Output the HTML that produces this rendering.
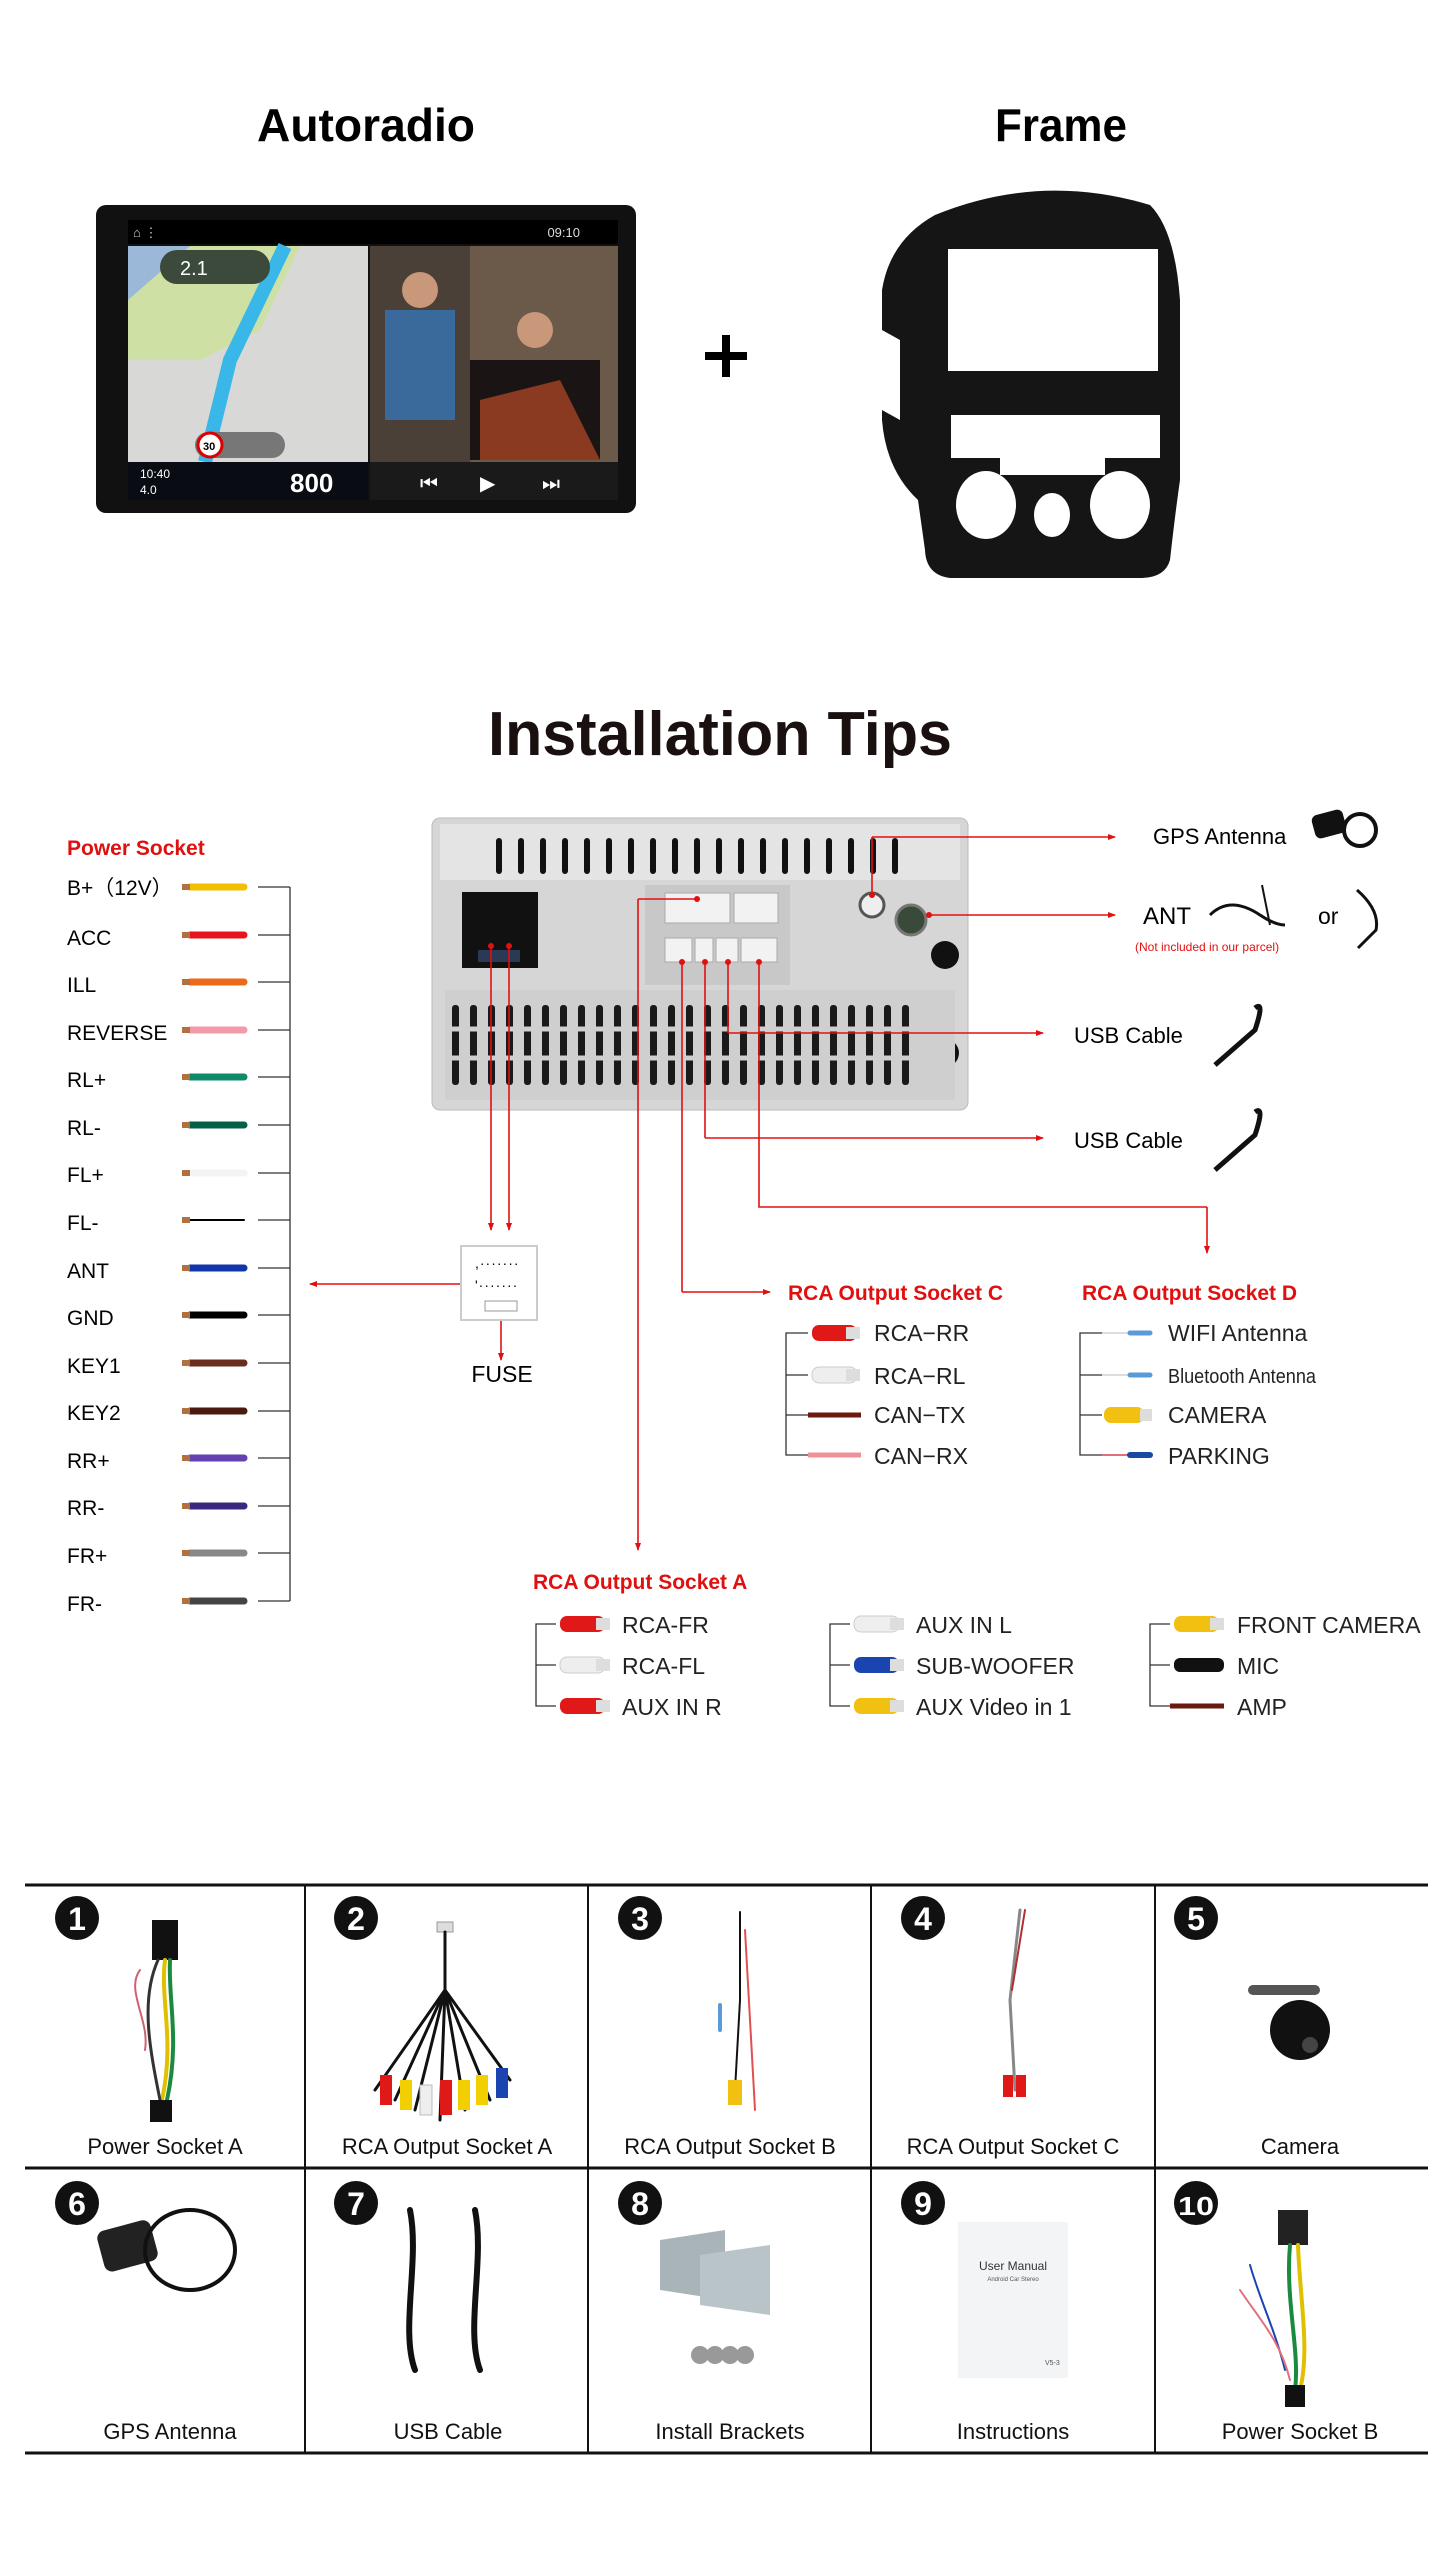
<!DOCTYPE html>
<html><head><meta charset="utf-8"><style>
html,body{margin:0;padding:0;background:#fff}
svg{display:block}
text{font-family:"Liberation Sans",sans-serif}
</style></head><body>
<svg width="1451" height="2560" viewBox="0 0 1451 2560" xmlns="http://www.w3.org/2000/svg">
<defs>
<marker id="ar" markerWidth="8" markerHeight="8" refX="7" refY="4" orient="auto" markerUnits="userSpaceOnUse"><path d="M0,1 L8,4 L0,7 z" fill="#e01010"/></marker>
</defs>
<rect width="1451" height="2560" fill="#fff"/>

<!-- Titles -->
<text x="366" y="141" font-size="46" font-weight="bold" text-anchor="middle" textLength="218" lengthAdjust="spacingAndGlyphs">Autoradio</text>
<text x="1061" y="141" font-size="46" font-weight="bold" text-anchor="middle" textLength="132" lengthAdjust="spacingAndGlyphs">Frame</text>

<!-- Autoradio screen -->
<rect x="96" y="205" width="540" height="308" rx="10" fill="#111"/>
<rect x="128" y="220" width="490" height="24" fill="#000"/>
<text x="133" y="237" font-size="13" fill="#ccc">⌂  ⋮</text>
<text x="580" y="237" font-size="13" fill="#ddd" text-anchor="end">09:10</text>
<rect x="128" y="246" width="240" height="216" fill="#d8d8d6"/>
<polygon points="128,246 300,246 260,330 200,360 128,360" fill="#cfe0a5"/>
<polygon points="128,246 190,246 128,300" fill="#9bb8d8"/>
<path d="M285,246 L230,360 L205,462" stroke="#38b7e8" stroke-width="14" fill="none"/>
<rect x="160" y="250" width="110" height="34" rx="17" fill="#3b4a3a"/>
<text x="180" y="275" font-size="20" fill="#fff">2.1</text>
<rect x="195" y="432" width="90" height="26" rx="13" fill="#777"/>
<circle cx="210" cy="445" r="12" fill="#fff" stroke="#d00" stroke-width="3"/>
<text x="203" y="450" font-size="11" font-weight="bold">30</text>
<rect x="370" y="246" width="248" height="216" fill="#6b5a4a"/>
<rect x="370" y="246" width="100" height="216" fill="#4a4038"/>
<rect x="385" y="310" width="70" height="110" fill="#3a6a9c"/>
<rect x="470" y="360" width="130" height="100" fill="#1a1414"/>
<polygon points="480,400 560,380 600,460 480,460" fill="#8b3a22"/>
<circle cx="420" cy="290" r="18" fill="#c9977a"/>
<circle cx="535" cy="330" r="18" fill="#c9977a"/>
<rect x="128" y="462" width="240" height="38" fill="#0a0c14"/>
<text x="140" y="478" font-size="12" fill="#fff">10:40</text>
<text x="140" y="494" font-size="12" fill="#fff">4.0</text>
<text x="290" y="492" font-size="26" font-weight="bold" fill="#fff">800</text>
<rect x="370" y="462" width="248" height="38" fill="#1a1a1a"/>
<text x="420" y="490" font-size="20" fill="#fff">⏮</text>
<text x="480" y="490" font-size="20" fill="#fff">▶</text>
<text x="542" y="490" font-size="20" fill="#fff">⏭</text>

<!-- Plus -->
<rect x="705" y="352" width="42" height="8" fill="#000"/>
<rect x="722" y="335" width="8" height="42" fill="#000"/>

<!-- Frame -->
<path d="M935,215 Q1040,172 1150,205 Q1175,230 1180,300 L1180,480 Q1175,515 1170,560 Q1165,578 1140,578 L950,578 Q926,575 925,550 L918,500 Q886,470 882,420 L882,290 Q890,240 935,215 Z" fill="#151515"/>
<rect x="948" y="249" width="210" height="122" fill="#fff"/>
<path d="M951,415 L1160,415 L1160,458 L1105,458 L1105,475 L1000,475 L1000,458 L951,458 Z" fill="#fff"/>
<ellipse cx="986" cy="505" rx="30" ry="34" fill="#fff"/>
<ellipse cx="1052" cy="515" rx="18" ry="22" fill="#fff"/>
<ellipse cx="1120" cy="505" rx="30" ry="34" fill="#fff"/>
<path d="M882,330 L900,340 L900,420 L882,410 Z" fill="#fff"/>

<!-- Installation Tips -->
<text x="720" y="755" font-size="62" font-weight="bold" text-anchor="middle" fill="#1a1010" textLength="464" lengthAdjust="spacingAndGlyphs">Installation Tips</text>

<!-- Head unit -->
<rect x="432" y="818" width="536" height="292" rx="8" fill="#d6d6d6" stroke="#bbb"/>
<rect x="440" y="824" width="520" height="56" fill="#e4e4e4"/>
<g fill="#111">
<rect x="496" y="838" width="6" height="36" rx="3"/><rect x="518" y="838" width="6" height="36" rx="3"/><rect x="540" y="838" width="6" height="36" rx="3"/><rect x="562" y="838" width="6" height="36" rx="3"/><rect x="584" y="838" width="6" height="36" rx="3"/><rect x="606" y="838" width="6" height="36" rx="3"/><rect x="628" y="838" width="6" height="36" rx="3"/><rect x="650" y="838" width="6" height="36" rx="3"/><rect x="672" y="838" width="6" height="36" rx="3"/><rect x="694" y="838" width="6" height="36" rx="3"/><rect x="716" y="838" width="6" height="36" rx="3"/><rect x="738" y="838" width="6" height="36" rx="3"/><rect x="760" y="838" width="6" height="36" rx="3"/><rect x="782" y="838" width="6" height="36" rx="3"/><rect x="804" y="838" width="6" height="36" rx="3"/><rect x="826" y="838" width="6" height="36" rx="3"/><rect x="848" y="838" width="6" height="36" rx="3"/><rect x="870" y="838" width="6" height="36" rx="3"/><rect x="892" y="838" width="6" height="36" rx="3"/>
</g>
<rect x="462" y="892" width="76" height="76" fill="#111"/>
<rect x="478" y="950" width="42" height="12" fill="#2a3a55"/>
<rect x="645" y="885" width="145" height="100" fill="#c8c8c8"/>
<rect x="665" y="893" width="65" height="30" fill="#f2f2f2" stroke="#aaa"/>
<rect x="734" y="893" width="44" height="30" fill="#f2f2f2" stroke="#aaa"/>
<rect x="665" y="938" width="27" height="24" fill="#f2f2f2" stroke="#aaa"/>
<rect x="695" y="938" width="18" height="24" fill="#f2f2f2" stroke="#aaa"/>
<rect x="716" y="938" width="22" height="24" fill="#f2f2f2" stroke="#aaa"/>
<rect x="741" y="938" width="36" height="24" fill="#f2f2f2" stroke="#aaa"/>
<circle cx="872" cy="905" r="12" fill="#eee" stroke="#555" stroke-width="3"/>
<circle cx="911" cy="920" r="15" fill="#3a4a3a" stroke="#777" stroke-width="3"/>
<circle cx="945" cy="955" r="14" fill="#111"/>
<circle cx="945" cy="1053" r="14" fill="#111"/>
<rect x="445" y="990" width="510" height="110" fill="#cfcfcf"/>
<g fill="#1a1a1a">
<rect x="452" y="1005" width="7" height="80" rx="3"/><rect x="470" y="1005" width="7" height="80" rx="3"/><rect x="488" y="1005" width="7" height="80" rx="3"/><rect x="506" y="1005" width="7" height="80" rx="3"/><rect x="524" y="1005" width="7" height="80" rx="3"/><rect x="542" y="1005" width="7" height="80" rx="3"/><rect x="560" y="1005" width="7" height="80" rx="3"/><rect x="578" y="1005" width="7" height="80" rx="3"/><rect x="596" y="1005" width="7" height="80" rx="3"/><rect x="614" y="1005" width="7" height="80" rx="3"/><rect x="632" y="1005" width="7" height="80" rx="3"/><rect x="650" y="1005" width="7" height="80" rx="3"/><rect x="668" y="1005" width="7" height="80" rx="3"/><rect x="686" y="1005" width="7" height="80" rx="3"/><rect x="704" y="1005" width="7" height="80" rx="3"/><rect x="722" y="1005" width="7" height="80" rx="3"/><rect x="740" y="1005" width="7" height="80" rx="3"/><rect x="758" y="1005" width="7" height="80" rx="3"/><rect x="776" y="1005" width="7" height="80" rx="3"/><rect x="794" y="1005" width="7" height="80" rx="3"/><rect x="812" y="1005" width="7" height="80" rx="3"/><rect x="830" y="1005" width="7" height="80" rx="3"/><rect x="848" y="1005" width="7" height="80" rx="3"/><rect x="866" y="1005" width="7" height="80" rx="3"/><rect x="884" y="1005" width="7" height="80" rx="3"/><rect x="902" y="1005" width="7" height="80" rx="3"/>
</g>
<g stroke="#cfcfcf" stroke-width="5"><line x1="445" y1="1029" x2="930" y2="1029"/><line x1="445" y1="1058" x2="930" y2="1058"/></g>

<!-- Red connectors -->
<g stroke="#e01010" stroke-width="1.6" fill="none">
<line x1="491" y1="946" x2="491" y2="1230" marker-end="url(#ar)"/>
<line x1="509" y1="946" x2="509" y2="1230" marker-end="url(#ar)"/>
<line x1="460" y1="1284" x2="310" y2="1284" marker-end="url(#ar)"/>
<line x1="501" y1="1308" x2="501" y2="1360" marker-end="url(#ar)"/>
<line x1="872" y1="895" x2="872" y2="837"/><line x1="872" y1="837" x2="1115" y2="837" marker-end="url(#ar)"/>
<line x1="929" y1="915" x2="1115" y2="915" marker-end="url(#ar)"/>
<line x1="728" y1="962" x2="728" y2="1033"/><line x1="728" y1="1033" x2="1043" y2="1033" marker-end="url(#ar)"/>
<line x1="705" y1="962" x2="705" y2="1138"/><line x1="705" y1="1138" x2="1043" y2="1138" marker-end="url(#ar)"/>
<polyline points="759,962 759,1207 1207,1207"/><line x1="1207" y1="1207" x2="1207" y2="1253" marker-end="url(#ar)"/>
<polyline points="682,962 682,1292"/><line x1="682" y1="1292" x2="770" y2="1292" marker-end="url(#ar)"/>
<polyline points="697,899 638,899"/><line x1="638" y1="899" x2="638" y2="1550" marker-end="url(#ar)"/>
</g>
<g fill="#e01010"><circle cx="491" cy="946" r="3"/><circle cx="509" cy="946" r="3"/><circle cx="697" cy="899" r="3"/><circle cx="682" cy="962" r="3"/><circle cx="705" cy="962" r="3"/><circle cx="728" cy="962" r="3"/><circle cx="759" cy="962" r="3"/><circle cx="872" cy="895" r="3"/><circle cx="929" cy="915" r="3"/></g>

<!-- Fuse -->
<rect x="461" y="1246" width="76" height="74" fill="#fff" stroke="#ccc" stroke-width="2"/>
<text x="475" y="1268" font-size="14" letter-spacing="1">,·······</text>
<text x="475" y="1290" font-size="14" letter-spacing="1">'·······</text>
<rect x="485" y="1301" width="32" height="10" fill="none" stroke="#999"/>
<text x="502" y="1382" font-size="23" text-anchor="middle">FUSE</text>

<!-- Right labels -->
<text x="1153" y="844" font-size="22">GPS Antenna</text>
<g fill="#111"><rect x="1313" y="812" width="32" height="24" rx="6" transform="rotate(-15 1329 824)"/><circle cx="1360" cy="830" r="16" fill="none" stroke="#111" stroke-width="4"/></g>
<text x="1143" y="924" font-size="24">ANT</text>
<path d="M1210,915 Q1230,895 1260,915 Q1275,925 1285,925" stroke="#111" stroke-width="3" fill="none"/><line x1="1262" y1="885" x2="1270" y2="925" stroke="#111" stroke-width="2"/>
<text x="1135" y="951" font-size="12" fill="#e01010">(Not included in our parcel)</text>
<text x="1318" y="924" font-size="23">or</text>
<path d="M1357,890 Q1380,910 1376,930 L1358,948" stroke="#111" stroke-width="3" fill="none"/>
<text x="1074" y="1043" font-size="22">USB  Cable</text>
<path d="M1255,1008 Q1265,1000 1255,1030 L1215,1065" stroke="#111" stroke-width="5" fill="none"/>
<text x="1074" y="1148" font-size="22">USB Cable</text>
<path d="M1255,1112 Q1265,1105 1255,1135 L1215,1170" stroke="#111" stroke-width="5" fill="none"/>

<!-- Power socket -->
<text x="67" y="855" font-size="21" font-weight="bold" fill="#e01010">Power Socket</text>
<g font-size="21">
<text x="67" y="895">B+（12V）</text><text x="67" y="945">ACC</text><text x="67" y="992">ILL</text><text x="67" y="1040">REVERSE</text>
<text x="67" y="1087">RL+</text><text x="67" y="1135">RL-</text><text x="67" y="1182">FL+</text><text x="67" y="1230">FL-</text>
<text x="67" y="1278">ANT</text><text x="67" y="1325">GND</text><text x="67" y="1373">KEY1</text><text x="67" y="1420">KEY2</text>
<text x="67" y="1468">RR+</text><text x="67" y="1515">RR-</text><text x="67" y="1563">FR+</text><text x="67" y="1611">FR-</text>
</g>
<g stroke-width="7" stroke-linecap="round">
<line x1="190" y1="887" x2="244" y2="887" stroke="#f2c000"/>
<line x1="190" y1="935" x2="244" y2="935" stroke="#e8141c"/>
<line x1="190" y1="982" x2="244" y2="982" stroke="#ea6a1a"/>
<line x1="190" y1="1030" x2="244" y2="1030" stroke="#f29aa8"/>
<line x1="190" y1="1077" x2="244" y2="1077" stroke="#0e8a68"/>
<line x1="190" y1="1125" x2="244" y2="1125" stroke="#066048"/>
<line x1="190" y1="1173" x2="244" y2="1173" stroke="#f4f4f4"/>
<line x1="190" y1="1220" x2="244" y2="1220" stroke="#000" stroke-width="2"/>
<line x1="190" y1="1268" x2="244" y2="1268" stroke="#1036a8"/>
<line x1="190" y1="1315" x2="244" y2="1315" stroke="#000"/>
<line x1="190" y1="1363" x2="244" y2="1363" stroke="#6a2e1c"/>
<line x1="190" y1="1411" x2="244" y2="1411" stroke="#4a1a0e"/>
<line x1="190" y1="1458" x2="244" y2="1458" stroke="#6440b0"/>
<line x1="190" y1="1506" x2="244" y2="1506" stroke="#3a2880"/>
<line x1="190" y1="1553" x2="244" y2="1553" stroke="#888"/>
<line x1="190" y1="1601" x2="244" y2="1601" stroke="#444"/>
</g>
<g fill="#b07040"><rect x="182" y="884" width="8" height="6"/><rect x="182" y="932" width="8" height="6"/><rect x="182" y="979" width="8" height="6"/><rect x="182" y="1027" width="8" height="6"/><rect x="182" y="1074" width="8" height="6"/><rect x="182" y="1122" width="8" height="6"/><rect x="182" y="1170" width="8" height="6"/><rect x="182" y="1217" width="8" height="6"/><rect x="182" y="1265" width="8" height="6"/><rect x="182" y="1312" width="8" height="6"/><rect x="182" y="1360" width="8" height="6"/><rect x="182" y="1408" width="8" height="6"/><rect x="182" y="1455" width="8" height="6"/><rect x="182" y="1503" width="8" height="6"/><rect x="182" y="1550" width="8" height="6"/><rect x="182" y="1598" width="8" height="6"/></g>
<g stroke="#333" stroke-width="1.3" fill="none">
<line x1="290" y1="887" x2="290" y2="1601"/>
<line x1="258" y1="887" x2="290" y2="887"/><line x1="258" y1="935" x2="290" y2="935"/><line x1="258" y1="982" x2="290" y2="982"/><line x1="258" y1="1030" x2="290" y2="1030"/><line x1="258" y1="1077" x2="290" y2="1077"/><line x1="258" y1="1125" x2="290" y2="1125"/><line x1="258" y1="1173" x2="290" y2="1173"/><line x1="258" y1="1220" x2="290" y2="1220"/><line x1="258" y1="1268" x2="290" y2="1268"/><line x1="258" y1="1315" x2="290" y2="1315"/><line x1="258" y1="1363" x2="290" y2="1363"/><line x1="258" y1="1411" x2="290" y2="1411"/><line x1="258" y1="1458" x2="290" y2="1458"/><line x1="258" y1="1506" x2="290" y2="1506"/><line x1="258" y1="1553" x2="290" y2="1553"/><line x1="258" y1="1601" x2="290" y2="1601"/>
</g>

<!-- RCA C -->
<text x="788" y="1300" font-size="21" font-weight="bold" fill="#e01010">RCA Output Socket C</text>
<g stroke="#333" stroke-width="1.3" fill="none"><polyline points="808,1333 786,1333 786,1455 808,1455"/><line x1="786" y1="1375" x2="808" y2="1375"/><line x1="786" y1="1415" x2="808" y2="1415"/></g>
<rect x="812" y="1325" width="45" height="16" rx="7" fill="#e01818"/><rect x="846" y="1327" width="14" height="12" fill="#ddd"/>
<rect x="812" y="1367" width="45" height="16" rx="7" fill="#eee" stroke="#ccc"/><rect x="846" y="1369" width="14" height="12" fill="#ddd"/>
<line x1="808" y1="1415" x2="861" y2="1415" stroke="#6a1a0e" stroke-width="5"/>
<line x1="808" y1="1455" x2="861" y2="1455" stroke="#f09098" stroke-width="5"/>
<g font-size="23" fill="#222"><text x="874" y="1341">RCA−RR</text><text x="874" y="1384">RCA−RL</text><text x="874" y="1423">CAN−TX</text><text x="874" y="1464">CAN−RX</text></g>

<!-- RCA D -->
<text x="1082" y="1300" font-size="21" font-weight="bold" fill="#e01010">RCA Output Socket D</text>
<g stroke="#333" stroke-width="1.3" fill="none"><polyline points="1102,1333 1080,1333 1080,1455 1102,1455"/><line x1="1080" y1="1375" x2="1102" y2="1375"/><line x1="1080" y1="1415" x2="1102" y2="1415"/></g>
<line x1="1102" y1="1333" x2="1130" y2="1333" stroke="#ddd" stroke-width="2"/><line x1="1130" y1="1333" x2="1150" y2="1333" stroke="#5a9ad8" stroke-width="5" stroke-linecap="round"/>
<line x1="1102" y1="1375" x2="1130" y2="1375" stroke="#ddd" stroke-width="2"/><line x1="1130" y1="1375" x2="1150" y2="1375" stroke="#5a9ad8" stroke-width="5" stroke-linecap="round"/>
<rect x="1104" y="1407" width="40" height="16" rx="7" fill="#f2c010"/><rect x="1140" y="1409" width="12" height="12" fill="#ddd"/>
<line x1="1102" y1="1455" x2="1130" y2="1455" stroke="#e07080" stroke-width="2"/><line x1="1130" y1="1455" x2="1150" y2="1455" stroke="#1a4aa0" stroke-width="6" stroke-linecap="round"/>
<g font-size="23" fill="#222"><text x="1168" y="1341">WIFI Antenna</text><text x="1168" y="1383" font-size="20" textLength="148" lengthAdjust="spacingAndGlyphs">Bluetooth Antenna</text><text x="1168" y="1423">CAMERA</text><text x="1168" y="1464">PARKING</text></g>

<!-- RCA A -->
<text x="533" y="1589" font-size="21" font-weight="bold" fill="#e01010">RCA Output Socket A</text>
<g stroke="#333" stroke-width="1.3" fill="none">
<polyline points="556,1624 536,1624 536,1706 556,1706"/><line x1="536" y1="1665" x2="556" y2="1665"/>
<polyline points="850,1624 830,1624 830,1706 850,1706"/><line x1="830" y1="1665" x2="850" y2="1665"/>
<polyline points="1170,1624 1150,1624 1150,1706 1170,1706"/><line x1="1150" y1="1665" x2="1170" y2="1665"/>
</g>
<rect x="560" y="1616" width="45" height="16" rx="7" fill="#e01818"/><rect x="596" y="1618" width="14" height="12" fill="#ddd"/>
<rect x="560" y="1657" width="45" height="16" rx="7" fill="#eee" stroke="#ccc"/><rect x="596" y="1659" width="14" height="12" fill="#ddd"/>
<rect x="560" y="1698" width="45" height="16" rx="7" fill="#e01818"/><rect x="596" y="1700" width="14" height="12" fill="#ddd"/>
<rect x="854" y="1616" width="45" height="16" rx="7" fill="#eee" stroke="#ccc"/><rect x="890" y="1618" width="14" height="12" fill="#ddd"/>
<rect x="854" y="1657" width="45" height="16" rx="7" fill="#1a44b0"/><rect x="890" y="1659" width="14" height="12" fill="#ddd"/>
<rect x="854" y="1698" width="45" height="16" rx="7" fill="#f2c010"/><rect x="890" y="1700" width="14" height="12" fill="#ddd"/>
<rect x="1174" y="1616" width="45" height="16" rx="7" fill="#f2c010"/><rect x="1210" y="1618" width="14" height="12" fill="#ddd"/>
<rect x="1174" y="1658" width="50" height="14" rx="6" fill="#111"/>
<line x1="1170" y1="1706" x2="1224" y2="1706" stroke="#6a1a0e" stroke-width="5"/>
<g font-size="23" fill="#222">
<text x="622" y="1633">RCA-FR</text><text x="622" y="1674">RCA-FL</text><text x="622" y="1715">AUX IN R</text>
<text x="916" y="1633">AUX IN L</text><text x="916" y="1674">SUB-WOOFER</text><text x="916" y="1715">AUX Video in 1</text>
<text x="1237" y="1633">FRONT CAMERA</text><text x="1237" y="1674">MIC</text><text x="1237" y="1715">AMP</text>
</g>

<!-- Bottom grid -->
<g stroke="#111" fill="none">
<line x1="25" y1="1885" x2="1428" y2="1885" stroke-width="3"/>
<line x1="25" y1="2168" x2="1428" y2="2168" stroke-width="3"/>
<line x1="25" y1="2453" x2="1428" y2="2453" stroke-width="3"/>
<line x1="305" y1="1885" x2="305" y2="2453" stroke-width="2"/>
<line x1="588" y1="1885" x2="588" y2="2453" stroke-width="2"/>
<line x1="871" y1="1885" x2="871" y2="2453" stroke-width="2"/>
<line x1="1155" y1="1885" x2="1155" y2="2453" stroke-width="2"/>
</g>
<g fill="#111">
<circle cx="77" cy="1918" r="22"/><circle cx="356" cy="1918" r="22"/><circle cx="640" cy="1918" r="22"/><circle cx="923" cy="1918" r="22"/><circle cx="1196" cy="1918" r="22"/>
<circle cx="77" cy="2203" r="22"/><circle cx="356" cy="2203" r="22"/><circle cx="640" cy="2203" r="22"/><circle cx="923" cy="2203" r="22"/><circle cx="1196" cy="2203" r="22"/>
</g>
<g fill="#fff" font-size="32" font-weight="bold" text-anchor="middle">
<text x="77" y="1930">1</text><text x="356" y="1930">2</text><text x="640" y="1930">3</text><text x="923" y="1930">4</text><text x="1196" y="1930">5</text>
<text x="77" y="2215">6</text><text x="356" y="2215">7</text><text x="640" y="2215">8</text><text x="923" y="2215">9</text><text x="1196" y="2215" font-size="26" textLength="36" lengthAdjust="spacingAndGlyphs">10</text>
</g>
<g font-size="22" text-anchor="middle" fill="#111">
<text x="165" y="2154">Power Socket A</text><text x="447" y="2154">RCA Output Socket A</text><text x="730" y="2154">RCA Output Socket B</text><text x="1013" y="2154">RCA Output Socket C</text><text x="1300" y="2154">Camera</text>
<text x="170" y="2439">GPS Antenna</text><text x="448" y="2439">USB Cable</text><text x="730" y="2439">Install Brackets</text><text x="1013" y="2439">Instructions</text><text x="1300" y="2439">Power Socket B</text>
</g>
<!-- item pictures -->
<g fill="none" stroke-linecap="round">
<rect x="152" y="1920" width="26" height="40" fill="#111"/>
<path d="M165,1960 C160,2000 175,2040 162,2100" stroke="#e0c000" stroke-width="4"/><path d="M170,1960 C168,2000 180,2040 167,2100" stroke="#1a8a40" stroke-width="4"/><path d="M158,1960 C140,2000 150,2050 160,2100" stroke="#333" stroke-width="3"/><path d="M140,1970 C125,1990 150,2020 145,2050" stroke="#d06070" stroke-width="2"/>
<rect x="150" y="2100" width="22" height="22" fill="#111"/>
<rect x="437" y="1922" width="16" height="10" fill="#ddd" stroke="#999"/>
<path d="M445,1932 L445,1990 M445,1990 L375,2090 M445,1990 L395,2100 M445,1990 L415,2110 M445,1990 L440,2120 M445,1990 L465,2110 M445,1990 L490,2100 M445,1990 L510,2080" stroke="#111" stroke-width="3"/>
<rect x="380" y="2075" width="12" height="30" fill="#e01818"/><rect x="400" y="2080" width="12" height="30" fill="#f2d000"/><rect x="420" y="2085" width="12" height="30" fill="#eee" stroke="#bbb"/><rect x="440" y="2080" width="12" height="35" fill="#e01818"/><rect x="458" y="2080" width="12" height="30" fill="#f2d000"/><rect x="476" y="2075" width="12" height="30" fill="#f2d000"/><rect x="496" y="2068" width="12" height="30" fill="#1a44b0"/>
<path d="M740,1912 L740,2000 L735,2090" stroke="#111" stroke-width="2"/><path d="M745,1930 L755,2110" stroke="#e05050" stroke-width="2"/>
<rect x="728" y="2080" width="14" height="25" fill="#f2c010"/><line x1="720" y1="2005" x2="720" y2="2030" stroke="#5a9ad8" stroke-width="4"/>
<path d="M1020,1910 L1010,2000 L1015,2090" stroke="#888" stroke-width="3"/><path d="M1025,1910 L1012,1990" stroke="#b03030" stroke-width="2"/>
<rect x="1003" y="2075" width="10" height="22" fill="#e01818"/><rect x="1016" y="2075" width="10" height="22" fill="#e01818"/>
<rect x="1248" y="1985" width="72" height="10" rx="5" fill="#555"/>
<circle cx="1300" cy="2030" r="30" fill="#111"/><circle cx="1310" cy="2045" r="8" fill="#444"/>
<rect x="100" y="2225" width="55" height="42" rx="8" fill="#222" transform="rotate(-15 127 2246)"/>
<ellipse cx="190" cy="2250" rx="45" ry="40" stroke="#111" stroke-width="4"/>
<path d="M410,2210 C420,2260 400,2330 415,2370" stroke="#111" stroke-width="6"/><path d="M475,2210 C485,2260 465,2330 480,2370" stroke="#111" stroke-width="6"/>
<path d="M660,2240 L725,2230 L725,2300 L660,2290 Z" fill="#a8b4b8"/><path d="M700,2255 L770,2245 L770,2315 L700,2305 Z" fill="#b8c4c8"/>
<g fill="#999"><circle cx="700" cy="2355" r="9"/><circle cx="715" cy="2355" r="9"/><circle cx="730" cy="2355" r="9"/><circle cx="745" cy="2355" r="9"/></g>
<rect x="958" y="2222" width="110" height="156" fill="#f2f4f6"/>
<rect x="1278" y="2210" width="30" height="35" fill="#222"/>
<path d="M1290,2245 C1285,2300 1300,2350 1295,2390" stroke="#1a8a40" stroke-width="4"/><path d="M1298,2245 C1300,2300 1310,2350 1300,2390" stroke="#e0c000" stroke-width="4"/><path d="M1250,2265 C1260,2300 1275,2330 1285,2370" stroke="#1a44b0" stroke-width="2"/><path d="M1240,2290 C1260,2320 1280,2340 1290,2380" stroke="#e07080" stroke-width="2"/>
<rect x="1285" y="2385" width="20" height="22" fill="#111"/>
</g>
<text x="1013" y="2270" font-size="12" text-anchor="middle" fill="#333">User Manual</text>
<text x="1013" y="2281" font-size="6" text-anchor="middle" fill="#555">Android Car Stereo</text>
<text x="1045" y="2365" font-size="7" fill="#555">V5-3</text>
</svg>
</body></html>
